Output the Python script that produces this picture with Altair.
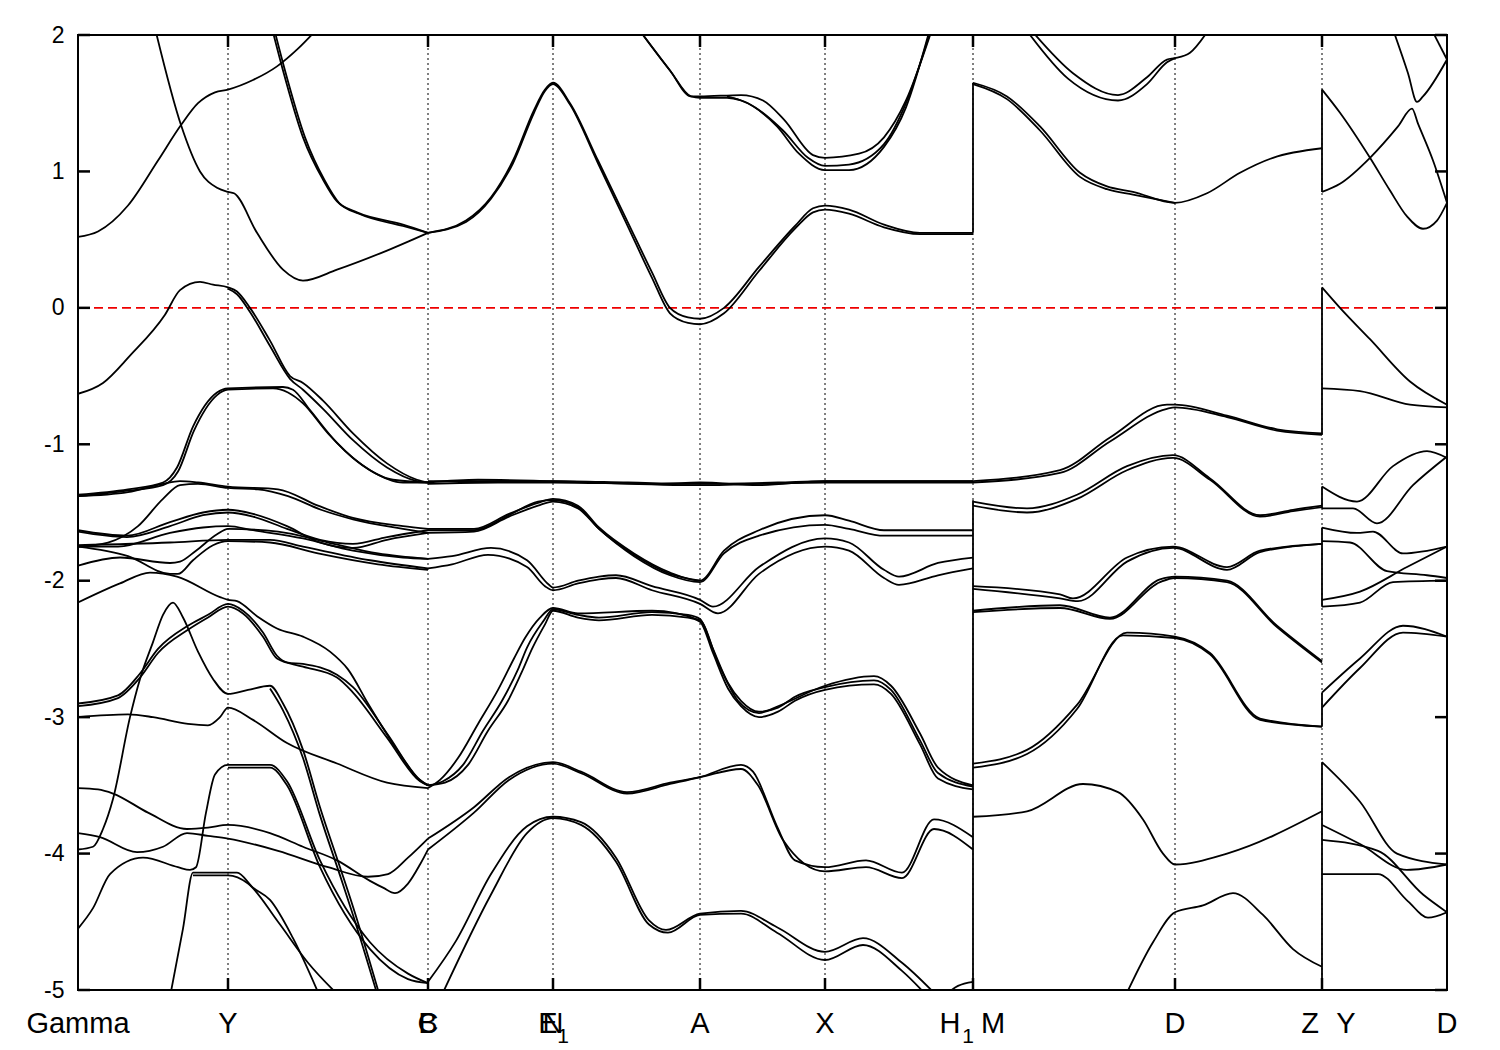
import altair as alt
import pandas as pd

# ---------------- k-path (tick positions) ----------------
K_MAX = 1369
grid_k = [150, 350, 475, 622, 747, 895, 1097, 1244]

# ---------------- band data: (k, E in eV) ----------------
upper_bands = [
    [(0, 0.52), (20, 0.56), (50, 0.75), (80, 1.08), (103, 1.34), (120, 1.5), (137, 1.58), (150, 1.6), (175, 1.67), (199, 1.77), (220, 1.9), (240, 2.05)],
    [(77, 2.05), (103, 1.34), (122, 1.0), (139, 0.88), (150, 0.85), (156, 0.84), (179, 0.55), (205, 0.28), (225, 0.2), (259, 0.28), (309, 0.42), (350, 0.55)],
    [(195, 2.02), (205, 1.74), (225, 1.25), (245, 0.94), (259, 0.78), (279, 0.7), (325, 0.61), (350, 0.55)],
    [(197, 2.02), (207, 1.74), (227, 1.25), (247, 0.93), (261, 0.77), (281, 0.69), (325, 0.6), (350, 0.55)],
    [(350, 0.55), (388, 0.64), (413, 0.81), (435, 1.08), (456, 1.45), (467, 1.6), (475, 1.65), (492, 1.5), (520, 1.08), (549, 0.64), (574, 0.26), (592, 0.0), (610, -0.07), (622, -0.08), (646, 0.0), (681, 0.3), (717, 0.6), (735, 0.73), (747, 0.75), (771, 0.72), (806, 0.61), (842, 0.55), (895, 0.55)],
    [(350, 0.55), (388, 0.63), (413, 0.8), (435, 1.06), (456, 1.43), (467, 1.59), (475, 1.64), (492, 1.49), (520, 1.06), (549, 0.61), (574, 0.22), (592, -0.04), (610, -0.11), (622, -0.12), (646, -0.04), (681, 0.27), (717, 0.58), (735, 0.7), (747, 0.72), (771, 0.69), (806, 0.59), (842, 0.54), (895, 0.54)],
    [(563, 2.02), (592, 1.74), (613, 1.55), (622, 1.55), (663, 1.56), (685, 1.52), (706, 1.38), (735, 1.12), (747, 1.1), (781, 1.13), (806, 1.25), (828, 1.52), (853, 2.02)],
    [(563, 2.02), (592, 1.74), (613, 1.55), (622, 1.54), (649, 1.54), (663, 1.52), (699, 1.33), (721, 1.13), (747, 1.01), (771, 1.01), (806, 1.18), (828, 1.47), (851, 2.02)],
    [(649, 1.55), (670, 1.5), (705, 1.3), (730, 1.1), (747, 1.04), (771, 1.05), (806, 1.2), (828, 1.5), (852, 2.02)],
    [(895, 1.65), (929, 1.55), (962, 1.33), (1002, 0.99), (1029, 0.89), (1055, 0.85), (1097, 0.77), (1129, 0.84), (1162, 0.99), (1195, 1.1), (1244, 1.17)],
    [(895, 1.64), (929, 1.53), (962, 1.3), (1002, 0.96), (1029, 0.87), (1055, 0.83), (1097, 0.77)],
    [(955, 2.02), (995, 1.72), (1040, 1.56), (1069, 1.69), (1089, 1.82), (1097, 1.83), (1112, 1.87), (1129, 2.02)],
    [(950, 2.02), (990, 1.68), (1040, 1.52), (1069, 1.64), (1089, 1.8), (1097, 1.83)],
    [(1244, 1.6), (1262, 1.43), (1292, 1.1), (1312, 0.86), (1329, 0.67), (1345, 0.58), (1359, 0.64), (1369, 0.77)],
    [(1244, 0.85), (1262, 0.91), (1292, 1.1), (1320, 1.33), (1334, 1.46), (1340, 1.35), (1355, 1.08), (1369, 0.77)],
    [(1316, 2.02), (1330, 1.72), (1339, 1.51), (1345, 1.55), (1369, 1.82)],
    [(1355, 2.02), (1369, 1.82)],
]

valence_top = [
    [(0, -0.63), (25, -0.55), (52, -0.35), (87, -0.05), (102, 0.13), (122, 0.19), (135, 0.17), (150, 0.15), (159, 0.12), (172, 0.0), (192, -0.24), (212, -0.5), (225, -0.55), (245, -0.68), (275, -0.92), (309, -1.14), (339, -1.26), (350, -1.28)],
    [(150, 0.14), (159, 0.1), (172, -0.03), (192, -0.28), (212, -0.52), (225, -0.6), (245, -0.74), (275, -0.97), (309, -1.17), (339, -1.27), (350, -1.28)],
    [(0, -1.37), (50, -1.33), (85, -1.28), (99, -1.17), (115, -0.87), (139, -0.62), (150, -0.59), (205, -0.58), (215, -0.6), (232, -0.75), (259, -0.99), (292, -1.19), (325, -1.28), (350, -1.28)],
    [(0, -1.38), (50, -1.34), (85, -1.3), (100, -1.2), (116, -0.9), (139, -0.64), (150, -0.6), (195, -0.59), (210, -0.62), (225, -0.7), (250, -0.92), (280, -1.13), (315, -1.26), (350, -1.28)],
    [(350, -1.27), (475, -1.27), (550, -1.28), (622, -1.29), (700, -1.28), (747, -1.27), (895, -1.27)],
    [(350, -1.28), (400, -1.26), (475, -1.27), (622, -1.3), (747, -1.28), (895, -1.28)],
    [(350, -1.29), (420, -1.28), (475, -1.28), (580, -1.29), (622, -1.28), (680, -1.3), (747, -1.27), (895, -1.27)],
]

middle_bands = [
    [(0, -1.38), (50, -1.35), (85, -1.29), (102, -1.27), (120, -1.28), (150, -1.31), (200, -1.33), (240, -1.45), (275, -1.54), (325, -1.6), (350, -1.62)],
    [(0, -1.75), (30, -1.72), (60, -1.6), (85, -1.4), (102, -1.3), (120, -1.29), (150, -1.32), (180, -1.33), (210, -1.38), (243, -1.48), (275, -1.55), (325, -1.62), (350, -1.65)],
    [(0, -1.63), (49, -1.67), (92, -1.57), (125, -1.5), (150, -1.48), (175, -1.51), (209, -1.6), (242, -1.72), (275, -1.76), (309, -1.7), (350, -1.65)],
    [(0, -1.64), (49, -1.68), (92, -1.6), (125, -1.52), (150, -1.5), (175, -1.53), (209, -1.62), (242, -1.7), (275, -1.73), (309, -1.68), (350, -1.63)],
    [(0, -1.75), (40, -1.75), (92, -1.65), (125, -1.61), (150, -1.6), (175, -1.63), (225, -1.69), (275, -1.78), (325, -1.83), (350, -1.84)],
    [(0, -1.74), (92, -1.72), (150, -1.7), (192, -1.7), (225, -1.75), (292, -1.85), (350, -1.91)],
    [(0, -1.75), (50, -1.82), (92, -1.95), (100, -1.95), (115, -1.85), (135, -1.74), (150, -1.71), (192, -1.72), (240, -1.8), (300, -1.88), (350, -1.92)],
    [(0, -1.89), (42, -1.83), (92, -1.87), (102, -1.86), (118, -1.78), (139, -1.66), (150, -1.62), (200, -1.64), (250, -1.72), (300, -1.8), (350, -1.84)],
    # B -> N -> A -> X -> H1
    [(350, -1.62), (396, -1.62), (431, -1.51), (460, -1.43), (475, -1.4), (500, -1.45), (521, -1.61), (556, -1.8), (592, -1.94), (622, -2.0), (646, -1.78), (681, -1.63), (747, -1.52), (771, -1.56), (806, -1.63), (895, -1.63)],
    [(350, -1.65), (396, -1.64), (431, -1.53), (460, -1.45), (475, -1.42), (500, -1.47), (521, -1.62), (556, -1.82), (592, -1.96), (622, -2.01), (646, -1.8), (681, -1.67), (747, -1.59), (771, -1.62), (806, -1.67), (895, -1.67)],
    [(350, -1.63), (396, -1.63), (431, -1.52), (460, -1.42), (475, -1.41), (500, -1.46), (521, -1.62), (556, -1.81), (592, -1.95), (622, -2.0)],
    [(350, -1.84), (374, -1.82), (413, -1.76), (449, -1.85), (471, -2.03), (475, -2.05), (500, -2.0), (521, -1.97), (538, -1.96), (574, -2.04), (622, -2.14), (635, -2.19), (681, -1.9), (747, -1.69), (771, -1.72), (806, -1.92), (821, -1.97), (860, -1.87), (895, -1.83)],
    [(350, -1.91), (374, -1.88), (410, -1.81), (449, -1.9), (467, -2.04), (475, -2.07), (500, -2.02), (521, -1.99), (538, -1.98), (574, -2.07), (622, -2.17), (640, -2.24), (681, -1.95), (747, -1.75), (771, -1.78), (806, -1.98), (821, -2.03), (860, -1.96), (895, -1.91)],
]

lower_bands = [
    [(0, -2.16), (42, -2.02), (72, -1.94), (99, -1.97), (142, -2.12), (150, -2.14), (159, -2.15), (179, -2.26), (199, -2.35), (225, -2.41), (252, -2.52), (270, -2.65), (290, -2.9), (320, -3.25), (340, -3.45), (350, -3.5)],
    [(0, -2.9), (40, -2.84), (62, -2.68), (80, -2.5), (110, -2.33), (130, -2.25), (150, -2.17), (165, -2.22), (185, -2.38), (199, -2.55), (210, -2.6), (225, -2.61), (259, -2.69), (275, -2.78), (309, -3.12), (342, -3.46), (350, -3.5)],
    [(0, -2.92), (40, -2.86), (62, -2.71), (80, -2.53), (110, -2.36), (130, -2.27), (150, -2.19), (165, -2.24), (185, -2.41), (199, -2.57), (225, -2.63), (259, -2.71), (275, -2.82), (309, -3.15), (342, -3.47), (350, -3.5)],
    [(0, -3.97), (15, -3.95), (25, -3.82), (35, -3.6), (52, -3.0), (62, -2.72), (75, -2.45), (85, -2.25), (95, -2.16), (105, -2.27), (120, -2.52), (135, -2.72), (150, -2.83), (170, -2.8), (192, -2.77), (205, -2.9), (225, -3.24), (242, -3.66), (262, -4.1), (275, -4.39), (302, -5.05)],
    [(192, -2.79), (205, -2.95), (225, -3.3), (242, -3.72), (262, -4.16), (275, -4.45), (300, -5.05)],
    [(0, -3.0), (50, -2.98), (75, -3.0), (110, -3.05), (130, -3.06), (142, -3.0), (150, -2.93), (175, -3.02), (209, -3.19), (259, -3.34), (309, -3.48), (350, -3.52)],
    [(0, -4.55), (15, -4.4), (32, -4.15), (65, -4.03), (100, -4.1), (112, -4.12), (118, -4.1), (128, -3.7), (137, -3.42), (150, -3.35), (192, -3.35), (209, -3.47), (242, -4.05), (292, -4.65), (330, -4.88), (350, -4.95)],
    [(150, -3.37), (192, -3.37), (209, -3.5), (242, -4.1), (292, -4.7), (330, -4.92), (350, -4.95)],
    [(0, -3.52), (20, -3.53), (35, -3.56), (70, -3.7), (109, -3.82), (130, -3.81), (150, -3.79), (192, -3.85), (225, -3.95), (259, -4.05), (292, -4.2), (305, -4.25), (317, -4.29), (330, -4.22), (342, -4.08), (350, -3.97)],
    [(0, -3.85), (22, -3.88), (59, -3.99), (85, -3.95), (109, -3.85), (130, -3.87), (150, -3.89), (200, -3.98), (250, -4.1), (290, -4.17), (310, -4.15), (330, -4.03), (350, -3.89)],
    [(92, -5.05), (105, -4.55), (115, -4.14), (130, -4.14), (150, -4.14), (159, -4.14), (175, -4.25), (192, -4.34), (215, -4.62), (242, -5.05)],
    [(115, -4.16), (150, -4.16), (170, -4.22), (200, -4.5), (230, -4.8), (262, -5.05)],
    # B -> N
    [(350, -3.5), (365, -3.47), (385, -3.35), (405, -3.1), (424, -2.88), (440, -2.65), (449, -2.49), (465, -2.3), (475, -2.21), (500, -2.25), (521, -2.27), (574, -2.23), (610, -2.25), (622, -2.28), (635, -2.5), (650, -2.75), (663, -2.88), (681, -2.96), (700, -2.93), (717, -2.85), (747, -2.78), (796, -2.73), (813, -2.8), (842, -3.17), (860, -3.41), (895, -3.51)],
    [(350, -3.5), (367, -3.48), (390, -3.35), (410, -3.1), (430, -2.88), (445, -2.65), (454, -2.5), (467, -2.32), (475, -2.22), (500, -2.27), (521, -2.29), (574, -2.25), (610, -2.27), (622, -2.3), (635, -2.53), (650, -2.79), (663, -2.92), (681, -3.0), (700, -2.96), (717, -2.88), (747, -2.8), (796, -2.76), (813, -2.83), (842, -3.2), (860, -3.45), (895, -3.53)],
    [(350, -3.52), (362, -3.46), (380, -3.3), (400, -3.05), (420, -2.8), (436, -2.57), (447, -2.42), (462, -2.27), (475, -2.2), (500, -2.24), (574, -2.22), (622, -2.29), (640, -2.6), (660, -2.88), (681, -2.97), (700, -2.92), (747, -2.77), (796, -2.7), (813, -2.77), (842, -3.12), (860, -3.37), (895, -3.5)],
    [(350, -3.97), (396, -3.7), (431, -3.46), (475, -3.34), (503, -3.41), (549, -3.56), (592, -3.49), (622, -3.44), (663, -3.35), (675, -3.4), (699, -3.8), (717, -4.05), (747, -4.1), (788, -4.05), (824, -4.14), (856, -3.75), (895, -3.88)],
    [(350, -3.89), (396, -3.66), (431, -3.44), (475, -3.33), (503, -3.4), (549, -3.55), (592, -3.48), (622, -3.44), (663, -3.38), (680, -3.5), (705, -3.9), (747, -4.13), (788, -4.1), (824, -4.18), (856, -3.82), (895, -3.97)],
    [(350, -4.94), (378, -4.64), (413, -4.15), (449, -3.8), (475, -3.73), (503, -3.77), (538, -4.03), (571, -4.49), (588, -4.56), (622, -4.44), (663, -4.42), (699, -4.54), (747, -4.72), (785, -4.62), (824, -4.8), (860, -5.05)],
    [(363, -5.05), (413, -4.3), (449, -3.85), (475, -3.74), (503, -3.79), (538, -4.06), (571, -4.52), (590, -4.58), (622, -4.45), (663, -4.44), (699, -4.58), (747, -4.78), (785, -4.67), (824, -4.86), (850, -5.05)],
    [(865, -5.05), (880, -4.97), (895, -4.94)],
]

right_bands = [
    # M -> D -> Z
    [(895, -1.27), (982, -1.19), (1032, -0.95), (1089, -0.71), (1097, -0.71), (1149, -0.79), (1199, -0.89), (1244, -0.92)],
    [(895, -1.28), (982, -1.21), (1032, -0.98), (1089, -0.74), (1097, -0.73), (1149, -0.8), (1199, -0.9), (1244, -0.93)],
    [(895, -1.42), (949, -1.47), (999, -1.37), (1049, -1.16), (1095, -1.08), (1132, -1.25), (1182, -1.52), (1215, -1.48), (1244, -1.45)],
    [(895, -1.45), (949, -1.5), (999, -1.4), (1049, -1.19), (1095, -1.1), (1132, -1.26), (1182, -1.53), (1215, -1.49), (1244, -1.46)],
    [(895, -2.04), (982, -2.1), (995, -2.13), (1049, -1.83), (1095, -1.75), (1149, -1.9), (1182, -1.78), (1244, -1.73)],
    [(895, -2.06), (982, -2.13), (1000, -2.15), (1049, -1.86), (1095, -1.76), (1149, -1.92), (1182, -1.79), (1244, -1.73)],
    [(895, -2.22), (982, -2.18), (1032, -2.27), (1082, -1.99), (1097, -1.97), (1149, -2.0), (1199, -2.33), (1244, -2.59)],
    [(895, -2.23), (982, -2.2), (1032, -2.28), (1082, -2.01), (1097, -1.98), (1149, -2.01), (1199, -2.34), (1244, -2.6)],
    [(895, -3.34), (949, -3.24), (999, -2.91), (1049, -2.38), (1097, -2.41), (1132, -2.53), (1182, -3.01), (1244, -3.07)],
    [(895, -3.37), (949, -3.27), (999, -2.94), (1045, -2.4), (1097, -2.42), (1132, -2.54), (1182, -3.02), (1244, -3.07)],
    [(895, -3.73), (949, -3.69), (1005, -3.49), (1040, -3.55), (1065, -3.75), (1085, -4.0), (1097, -4.08), (1149, -4.0), (1244, -3.69)],
    [(1047, -5.05), (1075, -4.65), (1097, -4.43), (1125, -4.38), (1155, -4.29), (1185, -4.45), (1215, -4.7), (1244, -4.83)],
    # Y -> D
    [(1244, 0.15), (1262, 0.0), (1292, -0.23), (1332, -0.54), (1369, -0.71)],
    [(1244, -0.59), (1282, -0.61), (1332, -0.71), (1369, -0.73)],
    [(1244, -1.31), (1279, -1.42), (1315, -1.16), (1349, -1.05), (1369, -1.1)],
    [(1244, -1.47), (1275, -1.47), (1299, -1.58), (1335, -1.3), (1369, -1.09)],
    [(1244, -1.61), (1279, -1.65), (1295, -1.64), (1325, -1.8), (1369, -1.75)],
    [(1244, -1.71), (1272, -1.72), (1309, -1.93), (1349, -1.96), (1369, -1.98)],
    [(1244, -2.14), (1282, -2.08), (1329, -1.9), (1369, -1.75)],
    [(1244, -2.19), (1282, -2.16), (1315, -2.01), (1369, -2.0)],
    [(1244, -2.82), (1282, -2.57), (1325, -2.33), (1369, -2.41)],
    [(1244, -2.93), (1282, -2.64), (1325, -2.38), (1369, -2.41)],
    [(1244, -3.33), (1282, -3.62), (1319, -4.0), (1369, -4.08)],
    [(1244, -3.79), (1282, -3.93), (1329, -4.12), (1369, -4.08)],
    [(1244, -3.9), (1300, -3.98), (1345, -4.3), (1369, -4.43)],
    [(1244, -4.15), (1300, -4.15), (1330, -4.35), (1350, -4.47), (1369, -4.43)],
]

# vertical band connections at the path discontinuities: (k, E_from, E_to)
jumps = [(895, 1.65, 0.55), (895, -1.41, -5.0), (1244, 1.6, 0.85), (1244, 0.15, -0.93),
         (1244, -1.31, -1.47), (1244, -1.61, -2.19), (1244, -2.82, -3.07), (1244, -3.33, -5.0)]

y_ticks = [-5, -4, -3, -2, -1, 0, 1, 2]
fermi = [0.0]

main_labels = [(0, "Gamma"), (150, "Y"), (350, "B"), (350, "C"), (475, "N"), (622, "A"),
               (747, "X"), (1097, "D"), (1369, "D")]
offset_labels = [(475, "E", -5), (895, "H", -23), (895, "M", 20), (1244, "Z", -12), (1244, "Y", 24)]
sub_labels = [(475, "1", 10), (895, "1", -5)]

# ---------------- build tables ----------------
rows = []
for gi, group in enumerate([upper_bands, valence_top, middle_bands, lower_bands, right_bands]):
    for bi, band in enumerate(group):
        for k, e in band:
            rows.append({"band": f"{gi}-{bi}", "k": k, "E": e})
bands_df = pd.DataFrame(rows)

E_MIN, E_MAX = -5, 2
xs = alt.Scale(domain=[0, K_MAX], nice=False, zero=False)
ys = alt.Scale(domain=[E_MIN, E_MAX], nice=False, zero=False)
TICK_E = 12 / 955 * (E_MAX - E_MIN)   # 12px expressed in energy units
TICK_K = 12 / 1369 * K_MAX            # 12px expressed in k units

grid_df = pd.DataFrame({"k": grid_k, "lo": E_MIN, "hi": E_MAX})
xt_df = pd.DataFrame(
    [{"k": k, "a": E_MIN, "b": E_MIN + TICK_E} for k in grid_k] +
    [{"k": k, "a": E_MAX, "b": E_MAX - TICK_E} for k in grid_k])
yt_df = pd.DataFrame(
    [{"E": e, "a": 0, "b": TICK_K} for e in y_ticks] +
    [{"E": e, "a": K_MAX, "b": K_MAX - TICK_K} for e in y_ticks])
jump_df = pd.DataFrame(jumps, columns=["k", "e1", "e2"])
fermi_df = pd.DataFrame({"E": fermi})
lab_df = pd.DataFrame(main_labels, columns=["k", "t"])
olab_df = pd.DataFrame(offset_labels, columns=["k", "t", "dx"])
slab_df = pd.DataFrame(sub_labels, columns=["k", "t", "dx"])

FONT = "Liberation Sans"
LW = 1.8

yaxis = alt.Axis(values=y_ticks, ticks=False, domain=False, grid=False, title=None,
                 labelFontSize=23, labelFont=FONT, labelColor="black", labelPadding=14,
                 labelExpr="'' + datum.value")

grid = alt.Chart(grid_df).mark_rule(color="black", strokeWidth=1, strokeDash=[2, 3]).encode(
    x=alt.X("k:Q", scale=xs, axis=None), y=alt.Y("lo:Q", scale=ys, axis=yaxis), y2="hi:Q")

fermi_line = alt.Chart(fermi_df).mark_rule(color="#ee0000", strokeWidth=1.8, strokeDash=[9, 5]).encode(
    y=alt.Y("E:Q", scale=ys))

lines = alt.Chart(bands_df).mark_line(color="black", strokeWidth=LW, interpolate="monotone", clip=True).encode(
    x=alt.X("k:Q", scale=xs), y=alt.Y("E:Q", scale=ys), detail="band:N", order="k:Q")

jump_lines = alt.Chart(jump_df).mark_rule(color="black", strokeWidth=LW).encode(
    x=alt.X("k:Q", scale=xs), y=alt.Y("e1:Q", scale=ys), y2="e2:Q")

xticks = alt.Chart(xt_df).mark_rule(color="black", strokeWidth=2.5).encode(
    x=alt.X("k:Q", scale=xs), y=alt.Y("a:Q", scale=ys), y2="b:Q")
yticks = alt.Chart(yt_df).mark_rule(color="black", strokeWidth=2.5).encode(
    y=alt.Y("E:Q", scale=ys), x=alt.X("a:Q", scale=xs), x2="b:Q")

labels = alt.Chart(lab_df).mark_text(font=FONT, fontSize=29, baseline="alphabetic", align="center",
                                     color="black").encode(
    x=alt.X("k:Q", scale=xs), y=alt.value(998), text="t:N")
olabels = [alt.Chart(olab_df[olab_df.dx == d]).mark_text(font=FONT, fontSize=29, baseline="alphabetic",
                                                        align="center", color="black", dx=int(d)).encode(
    x=alt.X("k:Q", scale=xs), y=alt.value(998), text="t:N") for d in olab_df.dx.unique()]
slabels = [alt.Chart(slab_df[slab_df.dx == d]).mark_text(font=FONT, fontSize=21, baseline="alphabetic",
                                                        align="center", color="black", dx=int(d)).encode(
    x=alt.X("k:Q", scale=xs), y=alt.value(1008), text="t:N") for d in slab_df.dx.unique()]

chart = alt.layer(grid, fermi_line, lines, jump_lines, xticks, yticks, labels, *olabels, *slabels).properties(
    width=1369, height=955,
    autosize=alt.AutoSizeParams(type="none"),
    padding={"left": 70, "top": 27, "right": 30, "bottom": 60},
    background="white",
).configure_view(stroke="black", strokeWidth=2)

chart.save("out.html", embed_options={"renderer": "svg", "actions": False})
